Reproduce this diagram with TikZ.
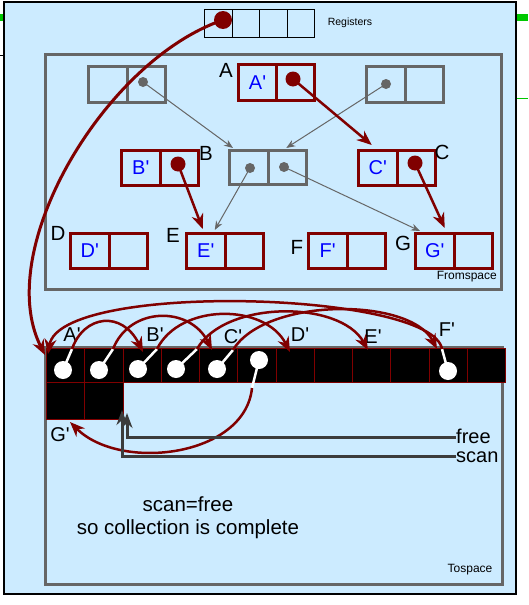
\documentclass[tikz,border=0pt]{standalone}
\usepackage{fontspec}
\setmainfont{Liberation Sans}[Ligatures=TeXOff]
\usetikzlibrary{arrows.meta,calc}
\definecolor{panel}{RGB}{204,235,255}
\definecolor{dred}{RGB}{128,0,0}
\definecolor{gbox}{RGB}{102,102,102}
\definecolor{dgray}{RGB}{60,60,60}
\definecolor{gbar}{RGB}{0,200,0}
\definecolor{tblue}{RGB}{0,0,255}
\begin{document}
\begin{tikzpicture}[x=1pt,y=-1pt,
  gcell/.style={draw=gbox,line width=3pt,minimum width=38.5pt,minimum height=36pt,anchor=north west,inner sep=0pt},
  rcell/.style={draw=dred,line width=3pt,minimum width=38.5pt,minimum height=35pt,anchor=north west,inner sep=0pt,text=tblue,font=\fontsize{20}{22}\selectfont},
  regcell/.style={draw=black,line width=1.2pt,minimum width=27.5pt,minimum height=28pt,anchor=north west,inner sep=0pt},
  tcell/.style={fill=black,draw=dred,line width=0.8pt,minimum width=38.25pt,minimum height=34pt,anchor=north west,inner sep=0pt},
  ucell/.style={tcell,minimum height=37pt},
  biglbl/.style={font=\fontsize{20.5}{22}\selectfont,inner sep=0pt},
  tlbl/.style={font=\fontsize{20}{22}\selectfont,inner sep=0pt},
  smalllbl/.style={font=\fontsize{12}{14}\selectfont,inner sep=0pt},
  gdot/.style={circle,fill=gbox,inner sep=0pt,minimum size=10pt},
  rdot/.style={circle,fill=dred,inner sep=0pt,minimum size=15pt},
  wdot/.style={circle,fill=white,inner sep=0pt,minimum size=18pt},
  garrow/.style={draw=gbox,line width=1pt,-{Stealth[length=9pt,width=7pt]}},
  rarrow/.style={draw=dred,line width=2.5pt,-{Stealth[length=15pt,width=12pt]}},
  rarc/.style={draw=dred,line width=2.5pt,-{Stealth[length=15pt,width=12pt]}},
  wline/.style={draw=white,line width=2.5pt},
  parrow/.style={draw=dgray,line width=3pt,-{Stealth[length=15pt,width=11pt]}}]
\useasboundingbox (0,0) rectangle (528,605);
\fill[white] (0,0) rectangle (528,605);
% background fragments
\fill[gbar] (516,14) rectangle (528,21);
\fill[gbar] (0,14) rectangle (4,21);
\draw[gbar,line width=0.8pt] (516,98) -- (528,98);
\draw[black,line width=1pt] (0,55) -- (4,55);
% panel
\draw[black,line width=1.5pt,fill=panel] (4,2) rectangle (516,594);

% registers
\foreach \i in {1,...,4} \node[regcell] (r\i) at ({204+(\i-1)*27.5},9) {};
\node[smalllbl,font=\fontsize{10.5}{12}\selectfont] (reglbl) at (350,23) {Registers};
\node[rdot,minimum size=18pt] (rd) at (223,20) {};

% fromspace
\draw[gbox,line width=3pt] (45,54) rectangle (501,289);
\node[smalllbl,anchor=east] (fromlbl) at (497,277) {Fromspace};

\node[gcell] (gLa) at (87,65) {};
\node[gcell] (gLb) at (125.5,65) {};
\node[gcell] (gRa) at (365,65) {};
\node[gcell] (gRb) at (403.5,65) {};
\node[gcell,minimum height=34pt] (gBa) at (228,149) {};
\node[gcell,minimum height=34pt] (gBb) at (266.5,149) {};

\node[rcell,minimum width=38pt,minimum height=36pt] (Aa) at (237,63) {A'};
\node[rcell,minimum width=38pt,minimum height=36pt] (Ab) at (275,63) {};
\node[rcell] (Ba) at (120,149) {B'};
\node[rcell] (Bb) at (158.5,149) {};
\node[rcell] (Ca) at (357,149) {C'};
\node[rcell] (Cb) at (395.5,149) {};
\node[rcell] (Da) at (69,232) {D'};
\node[rcell] (Db) at (107.5,232) {};
\node[rcell] (Ea) at (185,232) {E'};
\node[rcell] (Eb) at (223.5,232) {};
\node[rcell] (Fa) at (307,232) {F'};
\node[rcell] (Fb) at (345.5,232) {};
\node[rcell] (Ga) at (414,232) {G'};
\node[rcell] (Gb) at (452.5,232) {};

\node[biglbl] (lA) at (226,70) {A};
\node[biglbl] (lB) at (206,153) {B};
\node[biglbl] (lC) at (442,152) {C};
\node[biglbl] (lD) at (58,233) {D};
\node[biglbl] (lE) at (173,235) {E};
\node[biglbl] (lF) at (297,247) {F};
\node[biglbl] (lG) at (403,243) {G};

\node[gdot] (dgL) at (143,82) {};
\node[gdot] (dgR) at (386,84) {};
\node[gdot] (dgB1) at (250,168) {};
\node[gdot] (dgB2) at (284,167) {};
\node[rdot] (dA) at (293,79) {};
\node[rdot] (dB) at (178,164) {};
\node[rdot] (dC) at (415,163) {};

\draw[garrow] (dgL.center) -- ($(gBa.north west)+(5,-1)$);
\draw[garrow] (dgR.center) -- ($(gBb.north)+(-1,-1)$);
\draw[garrow] (dgB1.center) -- ($(Ea.north)+(9,-2)$);
\draw[garrow] (dgB2.center) -- ($(Ga.north west)+(6,-1)$);

\draw[rarrow] (dA.center) -- ($(Ca.north)+(-6,-4)$);
\draw[rarrow] (dB.center) -- ($(Ea.north)+(-3,-3)$);
\draw[rarrow] (dC.center) -- ($(Ga.north)+(10,-4)$);

% tospace
\draw[gbox,line width=3pt] (45,347) rectangle (502,584);
\foreach \i in {1,...,12} \node[tcell] (t\i) at ({46+(\i-1)*38.25},348) {};
\node[ucell] (u1) at (46,382) {};
\node[ucell] (u2) at (84.25,382) {};
\node[smalllbl] (tolbl) at (470,570) {Tospace};

\node[tlbl] (tA) at (72,335) {A'};
\node[tlbl] (tB) at (155,335) {B'};
\node[tlbl] (tC) at (233,337) {C'};
\node[tlbl] (tD) at (300,335) {D'};
\node[tlbl] (tE) at (373,337) {E'};
\node[tlbl] (tF) at (447,330) {F'};
\node[tlbl] (tG) at (60,435) {G'};

% white dots and lines
\node[wdot] (w1) at (63,370) {};
\node[wdot] (w2) at (99,370) {};
\node[wdot] (w3) at (138,369) {};
\node[wdot] (w4) at (176,369) {};
\node[wdot] (w5) at (217,369) {};
\node[wdot] (w6) at (259,360) {};
\node[wdot] (w11) at (448,371) {};
\coordinate (e1) at (72,349);
\coordinate (e2) at (113,349);
\coordinate (e3) at (157,349);
\coordinate (e4) at (197,349);
\coordinate (e5) at (233,350);
\coordinate (e6) at (252,388);
\coordinate (e11) at (442,349);
\foreach \k in {1,2,3,4,5,6,11} \draw[wline] (w\k.center) -- (e\k);

\coordinate (pA) at (48,354);
\coordinate (pB) at (143,352);
\coordinate (pC) at (212,350);
\coordinate (pD) at (290,352);
\coordinate (pE) at (368,350);
\coordinate (pF) at (437,349);
\coordinate (pG) at (70,422);

\draw[rarc] (e1) .. controls (84,315) and (122,310) .. (pB);
\draw[rarc] (e2) .. controls (130,306) and (190,306) .. (pC);
\draw[rarc] (e3) .. controls (180,303) and (265,303) .. (pD);
\draw[rarc] (e4) .. controls (225,300) and (340,300) .. (pE);
\draw[rarc] (e5) .. controls (265,297) and (410,297) .. (pF);
\draw[rarc] (e11) .. controls (432,291) and (60,281) .. (pA);
\draw[rarc] (e6) .. controls (245,457) and (120,472) .. (pG);

% register pointer
\coordinate (pA0) at (45,355);
\draw[rarc,line width=3pt] (rd.center) .. controls (105,60) and (-8,250) .. (pA0);

% free / scan
\node[tlbl,anchor=west] (free) at (456,436.5) {free};
\node[tlbl,anchor=west] (scan) at (456,457) {scan};
\coordinate (fc) at (127,437);
\coordinate (sc) at (122,456);
\draw[parrow] (free.west |- fc) -- (fc) -- (127,413);
\draw[parrow] (scan.west |- sc) -- (sc) -- (122,410);

\node[biglbl] (msg1) at (188,504) {scan=free};
\node[biglbl] (msg2) at (188,529) {so collection is complete};
\end{tikzpicture}
\end{document}
